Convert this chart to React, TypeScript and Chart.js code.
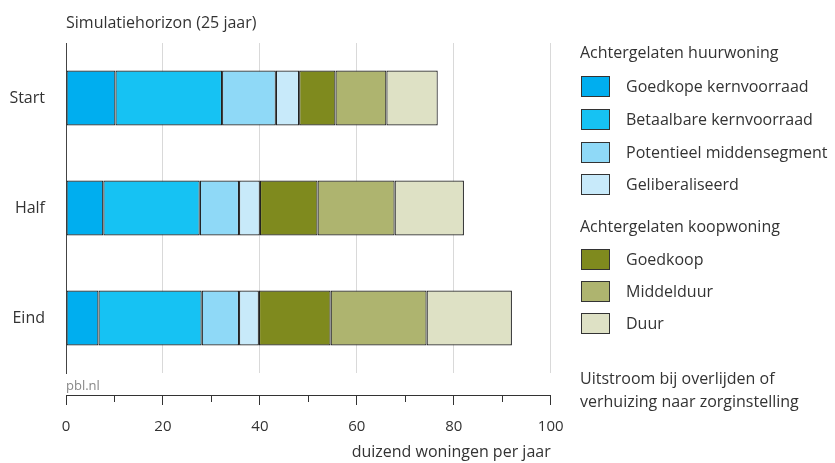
import React, { useEffect, useRef } from "react";
import { Chart, registerables } from "chart.js";

Chart.register(...registerables);

const categories = ["Start", "Half", "Eind"];
const goedkopeKern = [10.2, 7.7, 6.7];
const betaalbareKern = [22.0, 19.9, 21.3];
const potentieelMidden = [11.1, 8.1, 7.7];
const geliberaliseerd = [4.8, 4.3, 4.1];
const goedkoop = [7.5, 11.9, 14.8];
const middelduur = [10.5, 15.9, 19.8];
const duur = [10.6, 14.3, 17.6];

const seriesNames = [
  "Goedkope kernvoorraad",
  "Betaalbare kernvoorraad",
  "Potentieel middensegment",
  "Geliberaliseerd",
  "Goedkoop",
  "Middelduur",
  "Duur",
];
const seriesValues = [goedkopeKern, betaalbareKern, potentieelMidden, geliberaliseerd, goedkoop, middelduur, duur];
const seriesColors = ["#00AEEF", "#16C2F3", "#8FD9F7", "#C8EAFA", "#7F8A1E", "#AEB46F", "#DEE1C5"];

const xMin = 0;
const xMax = 100;
const majorStep = 20;
const minorStep = 10;

const FONT = "'Open Sans', 'DejaVu Sans', sans-serif";
const TEXT = "#333333";

export default function App() {
  const ref = useRef<HTMLCanvasElement | null>(null);

  useEffect(() => {
    if (!ref.current) return;
    Chart.defaults.font.family = FONT;
    Chart.defaults.color = TEXT;
    const chart = new Chart(ref.current, {
      type: "bar",
      data: {
        labels: categories,
        datasets: seriesNames.map((name, i) => ({
          label: name,
          data: seriesValues[i],
          backgroundColor: seriesColors[i],
          borderColor: "#222222",
          borderWidth: 1.2,
          borderSkipped: false,
          categoryPercentage: 1,
          barPercentage: 0.5,
          xAxisID: "x",
          yAxisID: "y",
        })),
      },
      options: {
        indexAxis: "y",
        responsive: false,
        animation: false,
        layout: { padding: { top: 43, right: 284.3, bottom: 0, left: 0 } },
        plugins: { legend: { display: false }, tooltip: { enabled: false } },
        scales: {
          y: {
            type: "category",
            stacked: true,
            position: "left",
            offset: true,
            grid: { display: true, drawOnChartArea: false, drawTicks: false },
            border: { display: true, color: "#444444", width: 1 },
            ticks: { padding: 21, font: { size: 16 }, color: TEXT },
            afterFit: (s: any) => {
              s.width = 66;
            },
          },
          x: {
            type: "linear",
            stacked: true,
            position: "bottom",
            weight: 0,
            min: xMin,
            max: xMax,
            ticks: { display: false, stepSize: majorStep },
            grid: {
              drawTicks: false,
              lineWidth: 1,
              color: (ctx: any) => (ctx.tick && ctx.tick.value === 0 ? "rgba(0,0,0,0)" : "#d9d9d9"),
            },
            border: { display: false },
            afterFit: (s: any) => {
              s.height = 22;
            },
          },
          x2: {
            type: "linear",
            position: "bottom",
            weight: 1,
            min: xMin,
            max: xMax,
            ticks: {
              stepSize: minorStep,
              padding: 13,
              maxRotation: 0,
              autoSkip: false,
              font: { size: 15 },
              color: TEXT,
              callback: (v: any) => (Number(v) % majorStep === 0 ? String(v) : ""),
            },
            grid: {
              drawOnChartArea: false,
              drawTicks: true,
              tickLength: 10,
              tickColor: "#333333",
              tickWidth: 1,
              tickBorderDash: (ctx: any) =>
                ctx.tick && Number(ctx.tick.value) % majorStep !== 0 ? [6, 30] : [],
            },
            border: { display: true, color: "#333333", width: 1 },
            title: {
              display: true,
              text: "duizend woningen per jaar",
              align: "end",
              font: { size: 16 },
              color: TEXT,
              padding: { top: 0, bottom: 1 },
            },
            afterFit: (s: any) => {
              s.height = 68;
            },
          },
        },
      },
    } as any);
    return () => chart.destroy();
  }, []);

  const txt = (top: number, left: number, content: string, extra: React.CSSProperties = {}) => (
    <div
      style={{
        position: "absolute",
        top: top - 10,
        left,
        height: 20,
        lineHeight: "20px",
        fontSize: 16,
        color: TEXT,
        whiteSpace: "nowrap",
        fontFamily: FONT,
        ...extra,
      }}
    >
      {content}
    </div>
  );

  const swatch = (center: number, color: string) => (
    <div
      style={{
        position: "absolute",
        top: center - 10.5,
        left: 581,
        width: 29,
        height: 21,
        boxSizing: "border-box",
        border: "1px solid #333333",
        background: color,
      }}
    />
  );

  const rows1 = [86, 119, 152, 184];
  const rows2 = [259, 291, 323];

  return (
    <div style={{ position: "fixed", left: 0, top: 0, width: 835, height: 463, background: "#ffffff" }}>
      <canvas ref={ref} width={835} height={463} style={{ position: "absolute", left: 0, top: 0, width: 835, height: 463 }} />
      {txt(21.5, 66, "Simulatiehorizon (25 jaar)")}
      {txt(385, 66, "pbl.nl", { fontSize: 13, color: "#888888" })}
      {txt(52, 580, "Achtergelaten huurwoning")}
      {rows1.map((c, i) => (
        <React.Fragment key={"a" + i}>
          {swatch(c, seriesColors[i])}
          {txt(c, 626, seriesNames[i])}
        </React.Fragment>
      ))}
      {txt(226, 580, "Achtergelaten koopwoning")}
      {rows2.map((c, i) => (
        <React.Fragment key={"b" + i}>
          {swatch(c, seriesColors[i + 4])}
          {txt(c, 626, seriesNames[i + 4])}
        </React.Fragment>
      ))}
      {txt(378, 580, "Uitstroom bij overlijden of")}
      {txt(401, 580, "verhuizing naar zorginstelling")}
    </div>
  );
}
